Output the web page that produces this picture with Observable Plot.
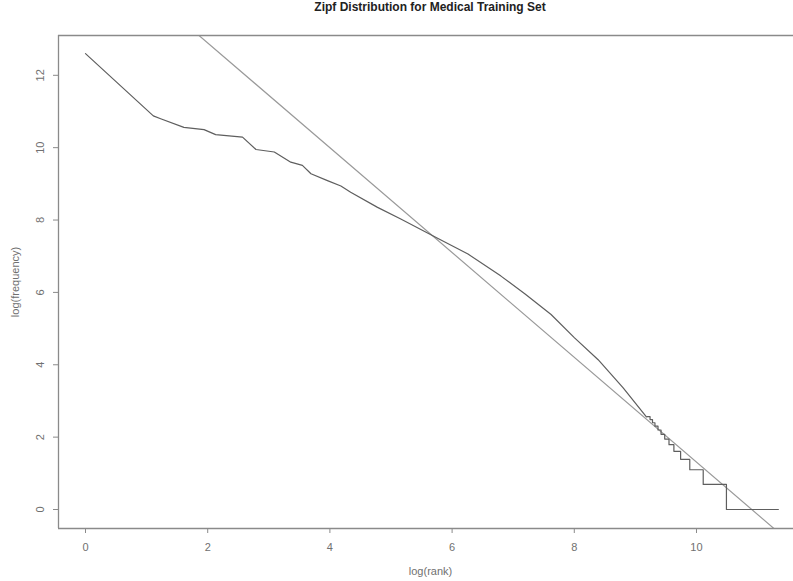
<!DOCTYPE html>
<html>
<head>
<meta charset="utf-8">
<script src="https://cdn.jsdelivr.net/npm/d3@7"></script>
<script src="https://cdn.jsdelivr.net/npm/@observablehq/plot@0.6"></script>
<style>
  html, body { margin: 0; padding: 0; background: #fff; overflow: hidden; }
  #title { width: 744px; margin-left: 58px; height: 24px; line-height: 26px; text-align: center;
           font: bold 12px "Liberation Sans", Arial, sans-serif; color: #222; }
</style>
</head>
<body>
<div id="title">Zipf Distribution for Medical Training Set</div>
<div id="chart"></div>
<script>
const logRank = [0, 1.11, 1.23, 1.61, 1.94, 2.13, 2.57, 2.79, 3.09, 3.36, 3.55, 3.69, 3.96, 4.18,
  4.34, 4.78, 5.16, 5.77, 6.26, 6.8, 7.2, 7.62, 8.0, 8.39, 8.8, 9.18,
  9.2, 9.24, 9.24, 9.28, 9.28, 9.32, 9.32, 9.37, 9.37, 9.42, 9.42, 9.48, 9.48, 9.55,
  9.55, 9.63, 9.63, 9.74, 9.74, 9.89, 9.89, 10.11, 10.11, 10.49, 10.49, 11.34];
const logFreq = [12.6, 10.88, 10.8, 10.56, 10.5, 10.36, 10.29, 9.95, 9.88, 9.6, 9.51, 9.28, 9.09, 8.94,
  8.77, 8.35, 8.03, 7.49, 7.06, 6.45, 5.95, 5.39, 4.75, 4.14, 3.36, 2.56,
  2.565, 2.565, 2.485, 2.485, 2.398, 2.398, 2.303, 2.303, 2.197, 2.197, 2.079, 2.079, 1.946, 1.946,
  1.792, 1.792, 1.609, 1.609, 1.386, 1.386, 1.099, 1.099, 0.693, 0.693, 0, 0];
// fitted Zipf line (abline)
const fitIntercept = 15.79;
const fitSlope = -1.448;
// axis ticks
const xTicks = [0, 2, 4, 6, 8, 10];
const yTicks = [0, 2, 4, 6, 8, 10, 12];

const xDomain = [-0.442, 11.735];
const yDomain = [-0.525, 13.10];

const curve = logRank.map((x, i) => ({x, y: logFreq[i]}));
const fit = xDomain.map(x => ({x, y: fitIntercept + fitSlope * x}));

const axisColor = "#8a8a8a";
const textColor = "#707070";

const chart = Plot.plot({
  width: 793,
  height: 557,
  marginTop: 11,
  marginBottom: 53,
  marginLeft: 58,
  marginRight: 0,
  style: {fontFamily: "'Liberation Sans', Arial, sans-serif", fontSize: "11px", background: "#fff"},
  x: {domain: xDomain, range: [58, 802]},
  y: {domain: yDomain},
  marks: [
    Plot.line(fit, {x: "x", y: "y", stroke: "#9a9a9a", strokeWidth: 1.2, clip: true}),
    Plot.line(curve, {x: "x", y: "y", stroke: "#5e5e5e", strokeWidth: 1.2}),
    // box
    Plot.ruleY([yDomain[0]], {stroke: axisColor, strokeWidth: 1.3}),
    Plot.ruleY([yDomain[1]], {stroke: axisColor, strokeWidth: 1.3}),
    Plot.ruleX([xDomain[0]], {stroke: axisColor, strokeWidth: 1.3}),
    Plot.axisX({ticks: xTicks, tickSize: 5, tickPadding: 10, stroke: axisColor, color: textColor,
      fontSize: 11, label: null, tickFormat: d => String(d)}),
    Plot.axisY({ticks: yTicks, tickSize: 5, stroke: axisColor, tickFormat: () => "", label: null}),
    Plot.text(yTicks, {x: xDomain[0], y: d => d, text: d => String(d), rotate: -90, dx: -18,
      fill: textColor, fontSize: 11, textAnchor: "middle", lineAnchor: "middle"}),
    Plot.text(["log(rank)"], {frameAnchor: "bottom", dy: 43, dx: 0, fill: textColor, fontSize: 11,
      lineAnchor: "middle", x: () => (xDomain[0] + xDomain[1]) / 2}),
    Plot.text(["log(frequency)"], {frameAnchor: "left", dx: -43, rotate: -90, fill: textColor,
      fontSize: 11, lineAnchor: "middle", textAnchor: "middle"})
  ]
});
document.getElementById("chart").appendChild(chart);
</script>
</body>
</html>
